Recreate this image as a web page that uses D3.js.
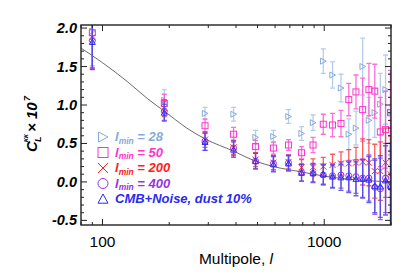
<!DOCTYPE html>
<html lang="en">
<head>
	<title>Lensing convergence spectrum</title>
	<script src="https://d3js.org/d3.v7.min.js" charset="utf-8"></script>
	<style>
	body { margin: 0; background: #fff; }
	text { font-family: "Liberation Sans", Arial, sans-serif; }
	.bi { font-weight: bold; font-style: italic; }
	</style>
</head>
<body>
	<script>
	// multipole bin centres
	var ell = [90, 190, 290, 390, 490, 590, 690, 790, 890, 990,
		1090, 1190, 1290, 1390, 1490, 1590, 1690, 1790, 1890, 1990];

	// l_min = 28
	var v28 = [1.96, 1.06, 0.89, 0.88, 0.58, 0.59, 0.85, 0.63, 0.77, 1.57,
		1.39, 1.22, 0.62, 0.70, 1.50, 0.80, 0.90, 1.01, 1.20, 0.91];
	var e28 = [0.45, 0.14, 0.08, 0.09, 0.09, 0.08, 0.09, 0.09, 0.10, 0.16,
		0.17, 0.18, 0.20, 0.22, 0.37, 0.30, 0.32, 0.40, 0.45, 0.50];
	// l_min = 50
	var v50 = [1.94, 1.02, 0.73, 0.62, 0.46, 0.44, 0.48, 0.38, 0.48, 0.75,
		0.74, 0.76, 1.07, 1.17, 0.94, 1.20, 1.18, 0.65, 0.68, 0.90];
	var e50 = [0.45, 0.12, 0.09, 0.09, 0.08, 0.08, 0.07, 0.08, 0.10, 0.13,
		0.15, 0.17, 0.21, 0.22, 0.41, 0.34, 0.35, 0.45, 0.50, 0.55];
	// l_min = 200
	var v200 = [1.88, 0.96, 0.55, 0.45, 0.29, 0.25, 0.26, 0.19, 0.19, 0.20,
		0.22, 0.24, 0.24, 0.25, 0.26, 0.25, 0.14, 0.14, 0.25, 0.10];
	var e200 = [0.40, 0.11, 0.10, 0.09, 0.09, 0.09, 0.09, 0.10, 0.11, 0.12,
		0.14, 0.15, 0.18, 0.20, 0.30, 0.30, 0.35, 0.38, 0.45, 0.50];
	// l_min = 400
	var v400 = [1.84, 0.92, 0.53, 0.44, 0.27, 0.24, 0.25, 0.12, 0.11, 0.09,
		0.08, 0.09, 0.08, 0.07, 0.05, 0.05, -0.07, -0.09, 0.05, -0.05];
	var e400 = [0.37, 0.12, 0.12, 0.10, 0.10, 0.10, 0.10, 0.11, 0.12, 0.13,
		0.15, 0.17, 0.20, 0.22, 0.25, 0.30, 0.35, 0.40, 0.45, 0.55];
	// CMB+Noise, dust 10%
	var vCmb = [1.82, 0.90, 0.52, 0.42, 0.27, 0.23, 0.24, 0.12, 0.12, 0.10,
		0.07, 0.06, 0.06, 0.04, 0.04, 0.03, -0.05, -0.06, 0.02, -0.05];
	var eCmb = [0.36, 0.11, 0.11, 0.10, 0.10, 0.10, 0.10, 0.11, 0.12, 0.13,
		0.15, 0.17, 0.20, 0.22, 0.25, 0.30, 0.35, 0.40, 0.45, 0.55];

	// theory curve
	var thL = [80, 100, 130, 160, 190, 240, 290, 390, 490, 590, 790, 1000, 1300, 1600, 2000];
	var thV = [1.74, 1.55, 1.30, 1.08, 0.92, 0.70, 0.56, 0.40, 0.27, 0.20, 0.13, 0.075, 0.035, 0.015, 0.0];

	var yTicks = [-0.5, 0.0, 0.5, 1.0, 1.5, 2.0];
	var xTicks = [100, 1000];

	var w = 415, h = 277;
	var mLeft = 81, mRight = 391, mTop = 25, mBottom = 225;

	var x = d3.scaleLog().domain([80, 2000]).range([mLeft, mRight]);
	var y = d3.scaleLinear().domain([-0.56, 2.04]).range([mBottom, mTop]);

	var svg = d3.select("body").append("svg")
		.attr("width", w).attr("height", h);

	svg.append("clipPath").attr("id", "clip")
		.append("rect")
		.attr("x", mLeft).attr("y", mTop)
		.attr("width", mRight - mLeft).attr("height", mBottom - mTop);

	var plot = svg.append("g").attr("clip-path", "url(#clip)");

	// theory line
	var line = d3.line()
		.x(function(d, i) { return x(thL[i]); })
		.y(function(d) { return y(d); })
		.curve(d3.curveMonotoneX);
	plot.append("path")
		.attr("d", line(thV))
		.attr("fill", "none")
		.attr("stroke", "#444")
		.attr("stroke-width", 0.8);

	// marker shapes
	function marker(g, shape, cx, cy, s, color) {
		if (shape == "tri-right") {
			g.append("path")
				.attr("d", "M" + (cx - s * 0.45) + "," + (cy - s * 0.5) + "L" + (cx + s * 0.5) + "," + cy +
					"L" + (cx - s * 0.45) + "," + (cy + s * 0.5) + "Z")
				.attr("fill", "none").attr("stroke", color);
		} else if (shape == "square") {
			g.append("rect")
				.attr("x", cx - s / 2).attr("y", cy - s / 2)
				.attr("width", s).attr("height", s)
				.attr("fill", "none").attr("stroke", color);
		} else if (shape == "cross") {
			g.append("path")
				.attr("d", "M" + (cx - s / 2) + "," + (cy - s / 2) + "L" + (cx + s / 2) + "," + (cy + s / 2) +
					"M" + (cx - s / 2) + "," + (cy + s / 2) + "L" + (cx + s / 2) + "," + (cy - s / 2))
				.attr("fill", "none").attr("stroke", color);
		} else if (shape == "circle") {
			g.append("circle")
				.attr("cx", cx).attr("cy", cy).attr("r", s / 2)
				.attr("fill", "none").attr("stroke", color);
		} else if (shape == "tri-up") {
			g.append("path")
				.attr("d", "M" + (cx - s / 2) + "," + (cy + s * 0.42) + "L" + cx + "," + (cy - s * 0.5) +
					"L" + (cx + s / 2) + "," + (cy + s * 0.42) + "Z")
				.attr("fill", "none").attr("stroke", color);
		}
	}

	var series = [
		{ name: "28", v: v28, e: e28, shape: "tri-right", color: "#86acd8", bar: "#a9c4e6" },
		{ name: "50", v: v50, e: e50, shape: "square", color: "#ff33cc", bar: "#ff55d5" },
		{ name: "200", v: v200, e: e200, shape: "cross", color: "#ff2020", bar: "#ff3b3b" },
		{ name: "400", v: v400, e: e400, shape: "circle", color: "#9933dd", bar: "#9f45e0" },
		{ name: "cmb", v: vCmb, e: eCmb, shape: "tri-up", color: "#2a2af0", bar: "#4848f2" }
	];

	series.forEach(function(s) {
		var g = plot.append("g");
		s.v.forEach(function(val, i) {
			var cx = x(ell[i]);
			var y0 = y(val - s.e[i]), y1 = y(val + s.e[i]);
			g.append("path")
				.attr("d", "M" + cx + "," + y0 + "V" + y1 +
					"M" + (cx - 2.5) + "," + y0 + "H" + (cx + 2.5) +
					"M" + (cx - 2.5) + "," + y1 + "H" + (cx + 2.5))
				.attr("stroke", s.bar).attr("stroke-width", 1.3)
				.attr("fill", "none").attr("opacity", 0.85);
			marker(g, s.shape, cx, y(val), 6, s.color);
		});
	});

	// frame
	svg.append("rect")
		.attr("x", mLeft).attr("y", mTop)
		.attr("width", mRight - mLeft).attr("height", mBottom - mTop)
		.attr("fill", "none").attr("stroke", "#222").attr("stroke-width", 1.4);

	// y ticks (inward, both sides)
	var yMinor = d3.range(-0.5, 2.01, 0.1);
	yMinor.forEach(function(t) {
		var major = Math.abs(Math.round(t * 2) / 2 - t) < 1e-6;
		var len = major ? 6 : 3;
		svg.append("line").attr("x1", mLeft).attr("x2", mLeft + len)
			.attr("y1", y(t)).attr("y2", y(t)).attr("stroke", "#222");
		svg.append("line").attr("x1", mRight).attr("x2", mRight - len)
			.attr("y1", y(t)).attr("y2", y(t)).attr("stroke", "#222");
	});

	// x ticks (inward, top and bottom)
	var xMinor = [80, 90, 100, 200, 300, 400, 500, 600, 700, 800, 900, 1000, 2000];
	xMinor.forEach(function(t) {
		if (x(t) < mLeft - 0.5 || x(t) > mRight + 0.5) return;
		var len = (t == 100 || t == 1000) ? 6 : 3;
		svg.append("line").attr("x1", x(t)).attr("x2", x(t))
			.attr("y1", mBottom).attr("y2", mBottom - len).attr("stroke", "#222");
		svg.append("line").attr("x1", x(t)).attr("x2", x(t))
			.attr("y1", mTop).attr("y2", mTop + len).attr("stroke", "#222");
	});

	// tick labels
	svg.selectAll(".ylab").data(yTicks).enter().append("text")
		.attr("class", "bi")
		.attr("x", 77).attr("y", function(d) { return y(d) + 5; })
		.attr("text-anchor", "end")
		.attr("font-size", 14.5)
		.text(function(d) { return d3.format(".1f")(d).replace("−", "-"); });

	svg.selectAll(".xlab").data(xTicks).enter().append("text")
		.attr("x", function(d) { return x(d); }).attr("y", 247)
		.attr("text-anchor", "middle")
		.attr("font-size", 15.5)
		.text(function(d) { return d; });

	// x axis title
	var xt = svg.append("text")
		.attr("x", 236).attr("y", 264)
		.attr("text-anchor", "middle")
		.attr("font-size", 15.5);
	xt.append("tspan").text("Multipole, ");
	xt.append("tspan").attr("font-style", "italic").text("l");

	// y axis title, rotated
	var yt = svg.append("g").attr("transform", "translate(37,152) rotate(-90)");
	yt.append("text").attr("class", "bi").attr("x", 0).attr("y", 0).attr("font-size", 15).text("C");
	yt.append("text").attr("class", "bi").attr("x", 10).attr("y", -9).attr("font-size", 7).text("κκ");
	yt.append("text").attr("class", "bi").attr("x", 10).attr("y", 4).attr("font-size", 9).text("L");
	yt.append("text").attr("class", "bi").attr("x", 20).attr("y", 0).attr("font-size", 15).text("× 10");
	yt.append("text").attr("class", "bi").attr("x", 51).attr("y", -7).attr("font-size", 9).text("7");

	// legend
	var legY = [137, 152.5, 168, 183.5, 199];
	var legText = ["28", "50", "200", "400"];
	series.forEach(function(s, i) {
		var ly = legY[i];
		marker(svg, s.shape, 103, ly, 10, s.color);
		var t = svg.append("text").attr("class", "bi")
			.attr("x", 115).attr("y", ly + 4)
			.attr("font-size", 13)
			.attr("fill", s.color);
		if (i < 4) {
			t.append("tspan").text("l");
			t.append("tspan").attr("font-size", 8.5).attr("dy", 2.5).text("min");
			t.append("tspan").attr("dy", -2.5).text(" = " + legText[i]);
		} else {
			t.text("CMB+Noise, dust 10%");
		}
	});
	</script>
</body>
</html>
